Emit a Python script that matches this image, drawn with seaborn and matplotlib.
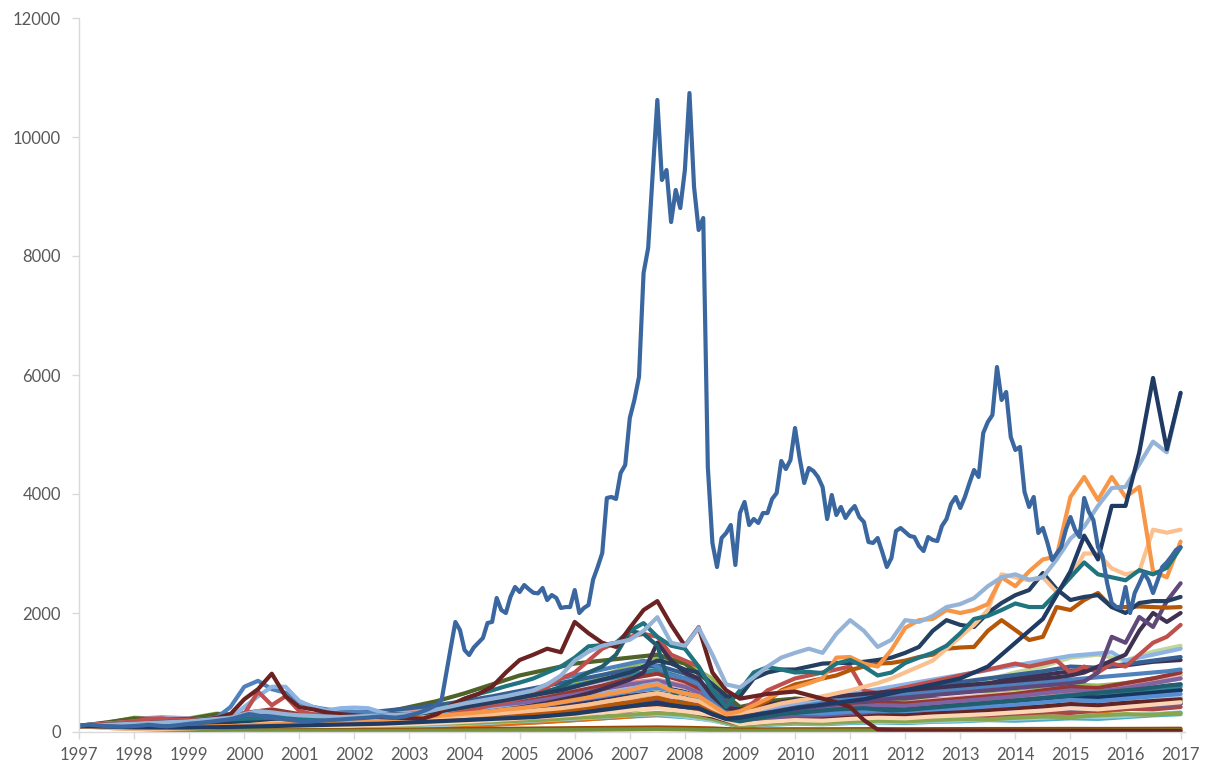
import matplotlib
matplotlib.use("Agg")
import matplotlib.pyplot as plt
import numpy as np
import pandas as pd
import seaborn as sns

# ---------------- data (index, 1997 = 100) ----------------
years = list(range(1997, 2018))

# main series, monthly Jan 1997 .. Jan 2017
main_blue = [
    100, 112, 125, 118, 110, 104, 98, 95, 92, 88, 92, 96,
    100, 106, 112, 122, 116, 108, 100, 96, 102, 110, 118, 128,
    138, 146, 152, 160, 168, 176, 186, 196, 206, 218, 236, 258,
    280, 300, 292, 272, 262, 250, 242, 232, 222, 210, 202, 192,
    186, 180, 176, 180, 186, 190, 196, 202, 206, 210, 216, 222,
    226, 232, 236, 242, 250, 256, 262, 252, 246, 240, 252, 262,
    282, 300, 322, 352, 382, 420, 462, 540, 980, 1420, 1849, 1714,
    1378, 1294, 1420, 1500, 1580, 1832, 1850, 2252, 2050, 2000, 2270, 2437,
    2353, 2470, 2400, 2340, 2330, 2420, 2218, 2302, 2252, 2084, 2100, 2100,
    2386, 2000, 2084, 2134, 2560, 2773, 3008, 3933, 3950, 3916, 4353, 4487,
    5277, 5580, 5966, 7714, 8134, 9395, 10622, 9277, 9445, 8571, 9109, 8806,
    9445, 10739, 9160, 8437, 8638, 4454, 3177, 2773, 3260, 3345, 3479, 2807,
    3681, 3866, 3479, 3580, 3513, 3680, 3680, 3916, 4017, 4555, 4420, 4571,
    5109, 4605, 4185, 4437, 4387, 4286, 4118, 3580, 3983, 3647, 3782, 3597,
    3714, 3798, 3613, 3530, 3193, 3177, 3260, 3025, 2773, 2924, 3378, 3429,
    3361, 3294, 3277, 3126, 3042, 3277, 3227, 3210, 3462, 3580, 3832, 3950,
    3765, 3950, 4185, 4403, 4286, 5025, 5210, 5328, 6134, 5580, 5714, 4958,
    4740, 4790, 4034, 3782, 3950, 3345, 3429, 3177, 2891, 3000, 3109, 3400,
    3613, 3400, 3277, 3933, 3700, 3563, 3109, 2950, 2500, 2168, 2100, 2084,
    2437, 2000, 2336, 2500, 2672, 2550, 2336, 2550, 2773, 2850, 2950, 3059,
    3109,
]

# prominent series, quarterly 1997.0 .. 2017.0
maroon = [100, 112, 122, 130, 142, 150, 165, 172, 185, 205, 235, 300,
          550, 720, 980, 600, 420, 380, 330, 300, 280, 262, 250, 240,
          232, 225, 300, 450, 560, 640, 760, 1000, 1210, 1300, 1400, 1340,
          1850, 1660, 1500, 1430, 1750, 2050, 2200, 1800, 1450, 1760, 1000, 700,
          560, 600, 640, 660, 680, 620, 560, 500, 420, 200, 40, 30,
          28, 26, 25, 24, 24, 23, 22, 22, 22, 21, 20, 20,
          20, 20, 19, 19, 18, 18, 18, 17, 17]
teal = [100, 108, 118, 128, 138, 150, 158, 168, 178, 190, 200, 212,
        222, 232, 240, 242, 240, 242, 250, 252, 252, 262, 272, 282,
        300, 330, 380, 460, 560, 640, 700, 770, 830, 900, 1000, 1100,
        1250, 1440, 1460, 1500, 1700, 1830, 1600, 1450, 1400, 1100, 700, 420,
        700, 1000, 1090, 1050, 1000, 1010, 990, 1150, 1210, 1100, 950, 1000,
        1160, 1250, 1330, 1450, 1660, 1900, 1950, 2050, 2160, 2100, 2100, 2340,
        2600, 2850, 2650, 2600, 2550, 2720, 2650, 2760, 3100]
teal_dark = [100, 105, 112, 118, 125, 132, 140, 148, 155, 165, 175, 185,
             200, 210, 205, 200, 195, 200, 205, 210, 215, 225, 235, 250,
             270, 300, 340, 380, 420, 460, 500, 540, 580, 620, 680, 760,
             880, 1000, 1100, 1300, 1700, 1650, 1450, 700, 460, 400, 300, 220,
             180, 220, 260, 300, 320, 340, 360, 380, 390, 400, 380, 360,
             370, 390, 410, 430, 450, 470, 490, 510, 530, 550, 570, 590,
             610, 640, 660, 680, 700, 720, 750, 780, 800]
light_blue = [100, 112, 120, 130, 140, 150, 160, 170, 180, 200, 220, 240,
              300, 350, 330, 300, 280, 270, 260, 250, 260, 270, 280, 290,
              300, 330, 380, 430, 480, 520, 560, 600, 650, 700, 800, 950,
              1200, 1350, 1450, 1500, 1550, 1700, 1930, 1500, 1450, 1750, 1300, 800,
              750, 920, 1100, 1250, 1330, 1400, 1330, 1650, 1880, 1700, 1430, 1550,
              1880, 1850, 1950, 2100, 2150, 2250, 2450, 2600, 2650, 2560, 2600, 2900,
              3250, 3450, 3800, 4100, 4120, 4500, 4880, 4700, 5700]
orange = [100, 90, 80, 75, 70, 72, 75, 80, 85, 90, 95, 100,
          110, 120, 130, 140, 150, 160, 170, 180, 190, 200, 210, 220,
          230, 250, 270, 290, 310, 330, 350, 380, 400, 430, 460, 500,
          540, 580, 620, 660, 700, 760, 800, 700, 650, 600, 450, 300,
          350, 450, 560, 680, 750, 820, 900, 1250, 1260, 1150, 1100, 1380,
          1750, 1880, 1900, 2050, 2000, 2050, 2150, 2600, 2450, 2700, 2900, 2950,
          3950, 4286, 3900, 4286, 3950, 4118, 2700, 2600, 3200]
peach = [100, 85, 70, 60, 55, 52, 50, 55, 60, 70, 80, 90,
         110, 130, 150, 160, 170, 175, 180, 185, 190, 200, 205, 210,
         220, 230, 240, 255, 270, 285, 300, 320, 340, 360, 380, 400,
         430, 460, 500, 540, 580, 620, 650, 600, 560, 520, 400, 300,
         320, 360, 420, 480, 520, 560, 600, 650, 700, 760, 820, 900,
         1000, 1100, 1200, 1400, 1600, 1800, 2050, 2650, 2600, 2550, 2600, 2350,
         2600, 3000, 3000, 2750, 2650, 2700, 3400, 3350, 3400]
dark_orange = [100, 95, 90, 88, 85, 88, 90, 92, 95, 100, 105, 110,
               115, 120, 125, 130, 135, 140, 145, 150, 155, 160, 165, 170,
               175, 185, 195, 210, 225, 240, 255, 270, 290, 310, 330, 350,
               380, 410, 440, 470, 500, 540, 580, 520, 480, 450, 350, 250,
               300, 420, 520, 700, 800, 850, 900, 950, 1040, 1100, 1150, 1160,
               1200, 1260, 1300, 1400, 1420, 1430, 1700, 1880, 1714, 1546, 1600, 2100,
               2050, 2218, 2336, 2100, 2100, 2110, 2100, 2090, 2100]
navy1 = [100, 105, 110, 115, 120, 125, 130, 135, 140, 150, 160, 170,
         180, 190, 200, 210, 220, 250, 260, 250, 250, 260, 280, 300,
         300, 320, 350, 380, 420, 460, 500, 540, 580, 620, 660, 700,
         760, 820, 880, 940, 1000, 1100, 1200, 1150, 1050, 1000, 800, 600,
         600, 900, 1000, 1050, 1050, 1100, 1150, 1160, 1160, 1180, 1210, 1250,
         1330, 1430, 1700, 1880, 1800, 1765, 2000, 2168, 2300, 2386, 2672, 2400,
         2218, 2270, 2300, 2100, 2000, 2168, 2200, 2200, 2270]
navy2 = [100, 95, 90, 85, 80, 78, 76, 75, 75, 78, 80, 85,
         90, 95, 100, 105, 110, 115, 120, 125, 130, 135, 140, 150,
         160, 170, 180, 190, 200, 210, 220, 230, 240, 250, 270, 290,
         310, 340, 370, 400, 430, 460, 490, 450, 420, 400, 300, 220,
         240, 280, 320, 360, 400, 430, 460, 490, 520, 550, 600, 650,
         700, 750, 800, 850, 900, 1000, 1100, 1300, 1500, 1700, 1900, 2300,
         2700, 3300, 2900, 3800, 3800, 4700, 5950, 4750, 5700]
purple = [100, 105, 110, 115, 120, 125, 130, 135, 140, 145, 150, 155,
          160, 165, 170, 175, 180, 185, 190, 195, 200, 205, 210, 215,
          220, 230, 240, 250, 260, 270, 280, 290, 300, 320, 340, 360,
          380, 400, 420, 440, 460, 480, 500, 460, 440, 420, 330, 250,
          260, 290, 320, 350, 380, 410, 440, 470, 500, 520, 540, 560,
          580, 600, 620, 640, 660, 680, 700, 720, 740, 760, 780, 800,
          820, 850, 1000, 1600, 1500, 1933, 1765, 2200, 2500]
purple_dark = [100, 98, 95, 92, 90, 92, 95, 100, 105, 110, 118, 125,
               132, 140, 148, 155, 160, 165, 170, 175, 180, 188, 195, 205,
               215, 230, 250, 270, 290, 320, 350, 380, 410, 450, 490, 540,
               590, 650, 720, 800, 880, 1000, 1500, 1200, 1000, 900, 600, 400,
               380, 420, 460, 500, 540, 560, 580, 600, 620, 640, 660, 680,
               700, 720, 740, 760, 780, 800, 820, 840, 860, 880, 900, 920,
               950, 1000, 1100, 1200, 1300, 1700, 2000, 1850, 2000]
red = [100, 120, 140, 160, 180, 220, 230, 200, 200, 210, 220, 240,
       300, 680, 450, 600, 350, 300, 260, 240, 230, 220, 215, 210,
       210, 220, 250, 300, 350, 400, 450, 500, 560, 650, 750, 900,
       1000, 1200, 1400, 1500, 1600, 1650, 1600, 1300, 1200, 1100, 700, 400,
       350, 500, 700, 800, 900, 950, 1000, 1050, 1100, 700, 650, 700,
       750, 800, 850, 900, 950, 1000, 1050, 1100, 1150, 1100, 1150, 1200,
       1000, 1100, 1000, 1150, 1100, 1300, 1500, 1600, 1800]
cornflower = [100, 125, 112, 110, 118, 130, 140, 150, 170, 190, 240, 420,
              760, 860, 720, 660, 500, 420, 380, 360, 340, 320, 300, 280,
              270, 300, 350, 400, 450, 500, 550, 600, 650, 700, 800, 900,
              950, 1000, 1050, 1100, 1150, 1200, 1100, 950, 900, 800, 500, 350,
              300, 350, 400, 450, 480, 500, 520, 540, 560, 580, 600, 620,
              640, 660, 680, 700, 720, 740, 760, 780, 800, 820, 840, 860,
              880, 900, 920, 940, 960, 980, 1000, 1020, 1050]
light_blue2 = [100, 110, 105, 108, 112, 118, 125, 132, 140, 150, 170, 230,
               420, 600, 760, 760, 520, 420, 360, 400, 410, 400, 330, 280,
               270, 280, 300, 320, 340, 360, 380, 400, 420, 450, 480, 520,
               560, 600, 640, 680, 720, 780, 820, 700, 650, 600, 450, 300,
               320, 360, 400, 440, 480, 520, 560, 600, 640, 680, 720, 760,
               800, 840, 880, 920, 960, 1000, 1040, 1080, 1120, 1160, 1200, 1240,
               1280, 1300, 1320, 1340, 1200, 1250, 1300, 1350, 1400]

# background series, half-yearly 1997.0 .. 2017.0
bg_green = [100, 150, 240, 220, 230, 310, 280, 250, 220, 230, 240, 270, 300, 380, 450, 520, 600, 680, 800, 950, 1100, 1250, 1150, 900, 350, 500, 560, 540, 600, 620, 580, 640, 700, 680, 720, 760, 800, 780, 820, 900, 950]
bg_lavender = [100, 160, 220, 250, 230, 260, 300, 280, 250, 240, 260, 290, 330, 380, 430, 500, 580, 650, 760, 860, 950, 1000, 880, 700, 300, 380, 420, 400, 450, 480, 460, 500, 520, 560, 540, 580, 620, 600, 650, 700, 720]
bg_cyan = [100, 85, 70, 65, 60, 60, 55, 50, 52, 55, 60, 68, 80, 95, 110, 130, 150, 175, 200, 230, 260, 280, 250, 200, 90, 120, 140, 130, 150, 160, 150, 170, 180, 200, 190, 210, 230, 220, 250, 280, 300]
bg_orange = [100, 70, 50, 45, 40, 50, 70, 80, 90, 100, 110, 130, 160, 190, 230, 280, 330, 390, 450, 520, 600, 640, 560, 420, 180, 260, 300, 280, 320, 340, 330, 360, 380, 400, 420, 450, 480, 460, 500, 540, 580]
bg_darkblue = [100, 115, 120, 135, 150, 175, 200, 180, 170, 180, 200, 230, 260, 300, 340, 390, 440, 500, 560, 640, 720, 780, 700, 550, 260, 330, 370, 360, 400, 430, 420, 460, 500, 520, 560, 600, 640, 620, 680, 740, 800]
bg_darkgreen = [100, 160, 230, 210, 220, 300, 290, 250, 230, 230, 250, 320, 420, 520, 650, 800, 950, 1050, 1150, 1200, 1250, 1300, 1150, 800, 420, 520, 560, 540, 580, 560, 540, 560, 520, 540, 560, 580, 600, 560, 600, 650, 700]
bg_pink = [100, 130, 150, 170, 190, 210, 230, 210, 200, 210, 230, 260, 290, 330, 370, 420, 480, 540, 610, 690, 760, 820, 740, 580, 300, 380, 420, 410, 460, 500, 490, 540, 580, 620, 650, 700, 760, 740, 800, 880, 950]
bg_teal = [100, 115, 125, 140, 160, 185, 210, 200, 210, 230, 260, 300, 350, 410, 470, 540, 610, 690, 780, 880, 960, 1050, 900, 650, 260, 330, 380, 370, 410, 440, 430, 470, 500, 540, 560, 600, 640, 620, 660, 700, 760]
bg_deeporange = [100, 75, 55, 40, 30, 30, 30, 32, 35, 40, 50, 60, 72, 85, 100, 120, 145, 170, 200, 230, 260, 300, 270, 200, 90, 130, 160, 150, 180, 200, 190, 220, 240, 260, 290, 320, 360, 340, 380, 420, 480]
bg_lightcyan = [100, 90, 80, 72, 64, 58, 52, 50, 54, 60, 68, 80, 95, 115, 135, 155, 180, 200, 225, 250, 280, 300, 260, 190, 100, 130, 150, 140, 160, 170, 165, 180, 195, 210, 220, 240, 260, 250, 270, 300, 330]
bg_brown = [100, 80, 62, 50, 42, 36, 32, 30, 30, 31, 33, 36, 40, 44, 48, 52, 56, 60, 64, 68, 72, 76, 70, 60, 40, 44, 46, 45, 47, 48, 47, 48, 49, 50, 50, 51, 52, 51, 52, 53, 55]
bg_olive = [100, 85, 70, 58, 48, 40, 32, 26, 22, 20, 20, 20, 21, 22, 24, 27, 30, 33, 36, 40, 44, 48, 42, 34, 20, 22, 22, 21, 22, 22, 21, 22, 22, 22, 22, 22, 23, 22, 23, 24, 25]
bg_darkpurple = [100, 90, 82, 74, 70, 72, 78, 82, 88, 98, 110, 128, 155, 190, 235, 285, 340, 410, 490, 570, 650, 720, 640, 480, 250, 320, 380, 420, 480, 540, 600, 680, 760, 840, 900, 960, 1020, 1080, 1120, 1180, 1210]
bg_rose = [100, 125, 145, 165, 185, 205, 225, 215, 220, 240, 265, 300, 345, 395, 445, 500, 560, 620, 690, 760, 830, 880, 780, 600, 300, 360, 400, 390, 430, 460, 450, 490, 520, 560, 600, 640, 700, 680, 750, 820, 900]
bg_lightgreen = [100, 112, 122, 140, 160, 182, 200, 190, 198, 210, 222, 245, 270, 305, 345, 395, 445, 500, 560, 620, 680, 730, 650, 500, 250, 320, 380, 420, 480, 540, 600, 680, 780, 880, 1000, 1100, 1250, 1300, 1200, 1350, 1450]
bg_midblue = [100, 120, 142, 168, 200, 230, 262, 272, 282, 300, 322, 352, 400, 452, 520, 600, 690, 780, 870, 960, 1050, 1120, 980, 700, 350, 440, 520, 560, 620, 680, 720, 780, 840, 900, 960, 1020, 1100, 1080, 1140, 1200, 1260]
bg_maroon = [100, 90, 80, 72, 70, 70, 72, 78, 86, 96, 108, 122, 140, 160, 182, 205, 230, 260, 300, 340, 380, 420, 360, 260, 130, 170, 200, 210, 240, 270, 280, 310, 340, 370, 400, 430, 470, 450, 490, 520, 550]
bg_navy = [100, 92, 84, 80, 80, 88, 100, 108, 118, 130, 150, 178, 218, 258, 300, 350, 400, 460, 530, 610, 690, 760, 670, 500, 250, 300, 330, 320, 350, 380, 390, 420, 450, 480, 520, 560, 600, 580, 620, 660, 700]
bg_red = [100, 120, 150, 170, 180, 210, 320, 380, 300, 260, 250, 260, 280, 320, 370, 430, 500, 580, 680, 780, 900, 980, 850, 620, 300, 380, 440, 430, 470, 500, 480, 520, 560, 600, 640, 700, 760, 740, 820, 900, 1000]
bg_skyblue = [100, 105, 115, 128, 142, 160, 200, 230, 210, 200, 205, 215, 230, 260, 300, 350, 400, 460, 530, 600, 680, 740, 660, 500, 220, 280, 320, 310, 340, 360, 350, 380, 400, 430, 460, 500, 540, 520, 560, 600, 640]
bg_apricot = [100, 70, 55, 50, 50, 58, 70, 80, 88, 95, 104, 115, 130, 150, 172, 198, 226, 256, 290, 330, 370, 400, 350, 280, 130, 170, 200, 190, 220, 240, 230, 260, 280, 300, 330, 360, 400, 380, 420, 460, 500]
bg_purple = [100, 110, 130, 150, 170, 200, 260, 240, 220, 210, 220, 240, 270, 310, 360, 420, 480, 550, 630, 720, 800, 860, 760, 560, 280, 350, 400, 380, 420, 450, 440, 480, 520, 560, 600, 650, 700, 680, 740, 820, 900]
bg_moss = [100, 130, 180, 160, 190, 240, 220, 200, 210, 190, 220, 260, 240, 300, 350, 330, 400, 460, 430, 520, 600, 560, 500, 380, 200, 260, 240, 280, 300, 270, 320, 340, 310, 360, 400, 380, 420, 460, 440, 480, 520]
bg_slate = [100, 90, 110, 100, 120, 140, 130, 150, 170, 160, 180, 210, 200, 240, 280, 260, 320, 360, 340, 400, 450, 420, 380, 300, 150, 200, 190, 220, 250, 230, 270, 300, 280, 320, 350, 330, 380, 420, 400, 450, 480]
bg_ice = [100, 120, 110, 140, 160, 150, 200, 260, 220, 200, 230, 250, 270, 310, 300, 350, 400, 380, 450, 520, 500, 560, 470, 380, 200, 260, 300, 280, 330, 360, 340, 380, 410, 400, 440, 480, 460, 520, 560, 540, 600]
bg_lilac = [100, 140, 170, 200, 190, 230, 260, 240, 210, 220, 200, 230, 260, 300, 290, 340, 380, 420, 460, 440, 520, 580, 500, 400, 220, 280, 260, 300, 320, 300, 340, 360, 350, 390, 420, 400, 440, 480, 470, 510, 560]
bg_steel = [100, 110, 100, 120, 130, 150, 170, 160, 180, 200, 190, 220, 250, 240, 290, 330, 310, 370, 420, 400, 470, 520, 480, 350, 160, 220, 250, 240, 270, 300, 290, 320, 350, 340, 380, 410, 400, 440, 480, 460, 500]
bg_brick = [100, 90, 100, 110, 130, 120, 140, 160, 150, 170, 160, 180, 200, 230, 220, 260, 300, 290, 340, 380, 360, 420, 380, 280, 130, 180, 200, 190, 210, 240, 230, 260, 280, 270, 300, 330, 320, 360, 390, 380, 420]
bg_violet = [100, 120, 140, 130, 150, 170, 160, 180, 200, 190, 210, 230, 260, 250, 300, 340, 330, 380, 430, 410, 480, 540, 500, 360, 170, 230, 260, 250, 280, 300, 290, 320, 340, 330, 360, 390, 380, 420, 450, 440, 470]
bg_leaf = [100, 80, 70, 60, 65, 70, 80, 75, 85, 90, 100, 110, 120, 140, 150, 170, 190, 210, 240, 260, 290, 320, 290, 220, 100, 140, 160, 150, 170, 190, 180, 200, 220, 210, 240, 260, 250, 280, 300, 290, 320]

# ---------------- assemble ----------------
background = [
    ("bg_green", bg_green, "#9BBB59"), ("bg_lavender", bg_lavender, "#B3A2C7"),
    ("bg_cyan", bg_cyan, "#4BACC6"), ("bg_orange", bg_orange, "#F79646"),
    ("bg_darkblue", bg_darkblue, "#1F497D"), ("bg_darkgreen", bg_darkgreen, "#4F6228"),
    ("bg_pink", bg_pink, "#E6B9B8"), ("bg_teal", bg_teal, "#31859C"),
    ("bg_deeporange", bg_deeporange, "#E46C0A"), ("bg_lightcyan", bg_lightcyan, "#93CDDD"),
    ("bg_moss", bg_moss, "#77933C"), ("bg_slate", bg_slate, "#2C4D75"),
    ("bg_ice", bg_ice, "#B9CDE5"), ("bg_lilac", bg_lilac, "#CCC1DA"),
    ("bg_steel", bg_steel, "#4A7EBB"), ("bg_brick", bg_brick, "#AA4643"),
    ("bg_violet", bg_violet, "#71588F"), ("bg_leaf", bg_leaf, "#89A54E"),
    ("bg_darkpurple", bg_darkpurple, "#403152"), ("bg_rose", bg_rose, "#D99694"),
    ("bg_lightgreen", bg_lightgreen, "#C3D69B"), ("bg_midblue", bg_midblue, "#366092"),
    ("bg_maroon", bg_maroon, "#632523"), ("bg_navy", bg_navy, "#17375E"),
    ("bg_red", bg_red, "#953735"), ("bg_skyblue", bg_skyblue, "#558ED5"),
    ("bg_apricot", bg_apricot, "#FCD5B5"), ("bg_purple", bg_purple, "#8064A2"),
    ("bg_brown", bg_brown, "#984807"), ("bg_olive", bg_olive, "#76923C"),
]
featured = [
    ("cornflower", cornflower, "#4F81BD"), ("light_blue2", light_blue2, "#8DB4E2"),
    ("red", red, "#C0504D"), ("purple_dark", purple_dark, "#3F3151"),
    ("purple", purple, "#60497A"), ("teal_dark", teal_dark, "#215F6E"),
    ("dark_orange", dark_orange, "#B65708"), ("navy1", navy1, "#243F60"),
    ("peach", peach, "#FAC090"), ("orange", orange, "#F79646"),
    ("teal", teal, "#1F7480"), ("maroon", maroon, "#6B2222"),
    ("light_blue", light_blue, "#95B3D7"), ("navy2", navy2, "#1F3A63"),
]

frames = []
palette = {}
order = []
for name, vals, col in background:
    assert len(vals) == 41, name
    frames.append(pd.DataFrame({"t": 1997 + 0.5 * np.arange(41), "v": vals, "series": name}))
    palette[name] = col
    order.append(name)
for name, vals, col in featured:
    assert len(vals) == 81, name
    frames.append(pd.DataFrame({"t": 1997 + 0.25 * np.arange(81), "v": vals, "series": name}))
    palette[name] = col
    order.append(name)
assert len(main_blue) == 241
frames.append(pd.DataFrame({"t": 1997 + np.arange(241) / 12.0, "v": main_blue, "series": "main"}))
palette["main"] = "#3A67A0"
order.append("main")
df = pd.concat(frames, ignore_index=True)

# ---------------- plot ----------------
sns.set_theme(style="white")
plt.rcParams["font.family"] = ["Lato", "DejaVu Sans"]

fig = plt.figure(figsize=(12.16, 7.72), dpi=100)
ax = fig.add_axes([79 / 1216, 40 / 772, (1185 - 79) / 1216, (732 - 18) / 772])

sns.lineplot(data=df, x="t", y="v", hue="series", hue_order=order, palette=palette,
             estimator=None, sort=False, legend=False, ax=ax)
for ln in ax.get_lines():
    ln.set_linewidth(3.0)
    ln.set_solid_joinstyle("round")
    ln.set_solid_capstyle("round")

ax.set_xlim(1997, 2017.08)
ax.set_ylim(0, 12000)
ax.set_xticks(years)
ax.set_xticklabels([str(y) for y in years])
ax.set_yticks(list(range(0, 12001, 2000)))
ax.set_yticklabels([str(v) for v in range(0, 12001, 2000)])
ax.set_xlabel("")
ax.set_ylabel("")

for s in ("top", "right"):
    ax.spines[s].set_visible(False)
for s in ("left", "bottom"):
    ax.spines[s].set_color("#D9D9D9")
    ax.spines[s].set_linewidth(1.0)

ax.tick_params(axis="both", which="major", bottom=True, left=True, direction="out",
               length=5, width=1, color="#D9D9D9", labelcolor="#595959", labelsize=12)
ax.tick_params(axis="y", pad=8)
ax.tick_params(axis="x", pad=6)

fig.savefig("out.png", dpi=100)
